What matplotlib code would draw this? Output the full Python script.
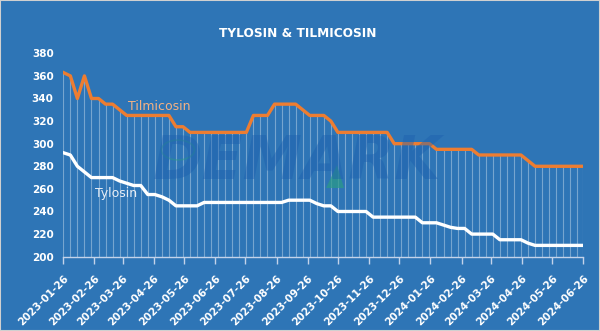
import matplotlib
matplotlib.use('Agg')
import matplotlib.pyplot as plt
import matplotlib.patches as mpatches
import pandas as pd

BG = '#2e75b6'
ORANGE = '#ed7d31'
AXIS = '#c3d3ea'

# weekly quotes (yuan/kg); the last one is taken a day early
dates = list(pd.date_range('2023-01-26', periods=74, freq='7D')) + [pd.Timestamp('2024-06-26')]

tilmicosin = [
    363, 360, 340, 360, 340, 340, 335, 335, 330, 325,
    325, 325, 325, 325, 325, 325, 315, 315, 310, 310,
    310, 310, 310, 310, 310, 310, 310, 325, 325, 325,
    335, 335, 335, 335, 330, 325, 325, 325, 320, 310,
    310, 310, 310, 310, 310, 310, 310, 300, 300, 300,
    300, 300, 300, 295, 295, 295, 295, 295, 295, 290,
    290, 290, 290, 290, 290, 290, 285, 280, 280, 280,
    280, 280, 280, 280, 280,
]

tylosin = [
    292, 290, 280, 275, 270, 270, 270, 270, 267, 265,
    263, 263, 255, 255, 253, 250, 245, 245, 245, 245,
    248, 248, 248, 248, 248, 248, 248, 248, 248, 248,
    248, 248, 250, 250, 250, 250, 247, 245, 245, 240,
    240, 240, 240, 240, 235, 235, 235, 235, 235, 235,
    235, 230, 230, 230, 228, 226, 225, 225, 220, 220,
    220, 220, 215, 215, 215, 215, 212, 210, 210, 210,
    210, 210, 210, 210, 210,
]

month_ticks = pd.date_range('2023-01-26', '2024-06-26', freq=pd.DateOffset(months=1))
month_labels = [d.strftime('%Y-%m-%d') for d in month_ticks]
y_ticks = [200, 220, 240, 260, 280, 300, 320, 340, 360, 380]

fig = plt.figure(figsize=(6, 3.31), dpi=100, facecolor=BG)
ax = fig.add_axes([0.1055, 0.2245, 0.8667, 0.6145], facecolor=BG)

# drop lines from the upper series down to the axis
ax.vlines(dates, 200, tilmicosin, colors='white', alpha=0.35, lw=0.8, zorder=1)
ax.plot(dates, tylosin, color='white', lw=2.4, zorder=3)
ax.plot(dates, tilmicosin, color=ORANGE, lw=2.4, zorder=3)

ax.set_xlim(dates[0], dates[-1])
ax.set_ylim(200, 380)
ax.set_yticks(y_ticks)
ax.set_yticklabels([str(v) for v in y_ticks], color='white', fontsize=7.5,
                   fontweight='bold')
ax.set_xticks(month_ticks)
ax.set_xticklabels(month_labels, color='white', fontsize=7.5, fontweight='bold',
                   rotation=45, ha='right', va='top', rotation_mode='anchor')

for side in ['top', 'right', 'left']:
    ax.spines[side].set_visible(False)
ax.spines['bottom'].set_color(AXIS)
ax.spines['bottom'].set_linewidth(1)
ax.tick_params(axis='y', length=0, pad=7)
ax.tick_params(axis='x', length=5, width=1, color=AXIS, direction='out', pad=7)

fig.text(0.496, 0.899, 'TYLOSIN & TILMICOSIN', color='white', fontsize=8.7,
         fontweight='bold', ha='center', va='center')

fig.text(128 / 600, 1 - 107 / 331, 'Tilmicosin', color='#f4b183', fontsize=9,
         ha='left', va='center', zorder=5)
fig.text(95 / 600, 1 - 193 / 331, 'Tylosin', color='#e8eef6', fontsize=9,
         ha='left', va='center', zorder=5)

# company watermark
fig.text(0.495, 0.51, 'DEMARK', color='#1b5fae', alpha=0.42, fontsize=43,
         fontweight='heavy', fontstyle='italic', ha='center', va='center', zorder=6)
tri = [(326 / 600, 1 - 188 / 331), (344 / 600, 1 - 188 / 331), (337 / 600, 1 - 165 / 331)]
fig.patches.append(mpatches.Polygon(tri, closed=True, transform=fig.transFigure,
                                    facecolor='#2a9b86', edgecolor='none', alpha=0.7))
fig.patches.append(mpatches.Ellipse((178 / 600, 1 - 150 / 331), 0.055, 0.06,
                                    transform=fig.transFigure, fill=False,
                                    edgecolor='#2a9b86', alpha=0.45, lw=1.2))

fig.patches.append(mpatches.Rectangle((0, 0), 1, 1, transform=fig.transFigure,
                                      fill=False, edgecolor='#d0d0d0', lw=1.5))

fig.savefig('out.png', dpi=100, facecolor=BG)
